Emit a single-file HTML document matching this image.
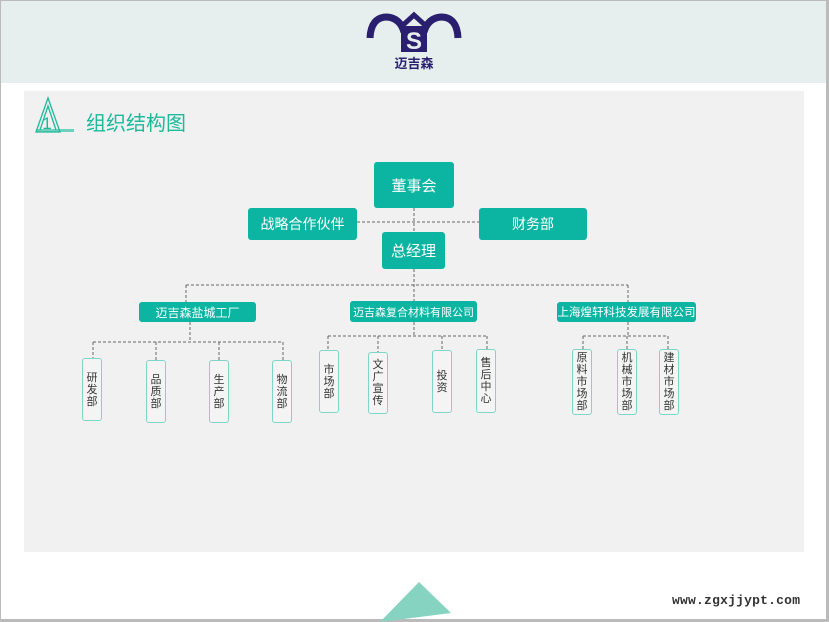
<!DOCTYPE html>
<html><head><meta charset="utf-8"><style>
*{margin:0;padding:0;box-sizing:border-box}
body{width:829px;height:622px;overflow:hidden;background:#fff;font-family:"Liberation Sans","Noto Sans CJK SC",sans-serif;position:relative}
.a{position:absolute}
.t{position:absolute;background:#0bb5a2;color:#fff;border-radius:3px;display:flex;align-items:center;justify-content:center;white-space:nowrap}
.c{position:absolute;width:20px;border:1.5px solid #7fd6c8;background:#f4f4f4;border-radius:3px;font-size:11px;line-height:12px;color:#333;text-align:center;display:flex;flex-direction:column;align-items:center;justify-content:center}
</style></head><body>
<div class="a" style="left:0;top:0;width:829px;height:83px;background:#e6efee"></div>
<div class="a" style="left:0;top:0;width:829px;height:1px;background:#bbb"></div>
<div class="a" style="left:0;top:0;width:1px;height:622px;background:#bbb"></div>
<div class="a" style="left:826px;top:0;width:3px;height:622px;background:#bbb"></div>
<div class="a" style="left:0;top:619px;width:829px;height:3px;background:#bbb"></div>
<div class="a" style="left:24px;top:91px;width:780px;height:461px;background:#f1f1f1"></div>
<svg class="a" style="left:0;top:0" width="829" height="622">
<g fill="none" stroke="#2a1f6e" stroke-width="7">
<path d="M370 38 Q371 17 387 17 Q400 18 404 32"/>
<path d="M458 38 Q457 17 441 17 Q428 18 424 32"/>
<path d="M402 26 L414 15 L426 26" stroke-width="5"/>
</g>
<rect x="401" y="26" width="26" height="26" fill="#2a1f6e"/>
<text x="414" y="49" font-size="24" font-weight="bold" fill="#e6efee" text-anchor="middle" font-family="Liberation Sans">S</text>
<text x="414" y="68" font-size="13" font-weight="bold" fill="#2a1f6e" text-anchor="middle" font-family="Liberation Sans,Noto Sans CJK SC,sans-serif">迈吉森</text>
<g fill="none" stroke="#1cb99a" stroke-width="1.3">
<path d="M36 132 L48 98 L60 132 Z"/><path d="M40 130 L48 106 L56 130"/>
</g>
<rect x="36" y="129" width="38" height="3" fill="#1cb99a" opacity=".6"/>
<text x="47" y="129" font-size="17" fill="#1cb99a" text-anchor="middle">1</text>
<text x="86" y="130" font-size="20" fill="#1cb99a" font-family="Liberation Sans,Noto Sans CJK SC,sans-serif">组织结构图</text>
<g fill="none" stroke="#666" stroke-width="1" stroke-dasharray="3,2">
<path d="M357 222 H479 M414 208 V232 M414 269 V301 M186 285 H628 M186 285 V302 M628 285 V302"/>
<path d="M190 322 V342 M93 342 H283 M93 342 V358 M156 342 V360 M219 342 V360 M283 342 V360"/>
<path d="M414 322 V336 M328 336 H487 M328 336 V350 M378 336 V352 M442 336 V350 M487 336 V349"/>
<path d="M628 322 V336 M583 336 H668 M583 336 V349 M627 336 V349 M668 336 V349"/>
</g>
<path d="M419 582 L451 613 L380 622 Z" fill="#86d3c1"/>
<text x="672" y="604" font-size="13" font-weight="bold" fill="#333" font-family="Liberation Mono,monospace" textLength="128">www.zgxjjypt.com</text>
</svg>
<div class="t" style="left:374px;top:162px;width:80px;height:46px;font-size:15px">董事会</div>
<div class="t" style="left:248px;top:208px;width:109px;height:32px;font-size:14px">战略合作伙伴</div>
<div class="t" style="left:479px;top:208px;width:108px;height:32px;font-size:14px">财务部</div>
<div class="t" style="left:382px;top:232px;width:63px;height:37px;font-size:15px">总经理</div>
<div class="t" style="left:139px;top:302px;width:117px;height:20px;font-size:12px">迈吉森盐城工厂</div>
<div class="t" style="left:350px;top:301px;width:127px;height:21px;font-size:11px">迈吉森复合材料有限公司</div>
<div class="t" style="left:557px;top:302px;width:139px;height:20px;font-size:11.5px">上海煌轩科技发展有限公司</div>
<div class="c" style="left:82px;top:358px;height:63px">研<br>发<br>部</div>
<div class="c" style="left:146px;top:360px;height:63px">品<br>质<br>部</div>
<div class="c" style="left:209px;top:360px;height:63px">生<br>产<br>部</div>
<div class="c" style="left:272px;top:360px;height:63px">物<br>流<br>部</div>
<div class="c" style="left:319px;top:350px;height:63px">市<br>场<br>部</div>
<div class="c" style="left:368px;top:352px;height:62px">文<br>广<br>宣<br>传</div>
<div class="c" style="left:432px;top:350px;height:63px">投<br>资</div>
<div class="c" style="left:476px;top:349px;height:64px">售<br>后<br>中<br>心</div>
<div class="c" style="left:572px;top:349px;height:66px">原<br>料<br>市<br>场<br>部</div>
<div class="c" style="left:617px;top:349px;height:66px">机<br>械<br>市<br>场<br>部</div>
<div class="c" style="left:659px;top:349px;height:66px">建<br>材<br>市<br>场<br>部</div>
</body></html>
